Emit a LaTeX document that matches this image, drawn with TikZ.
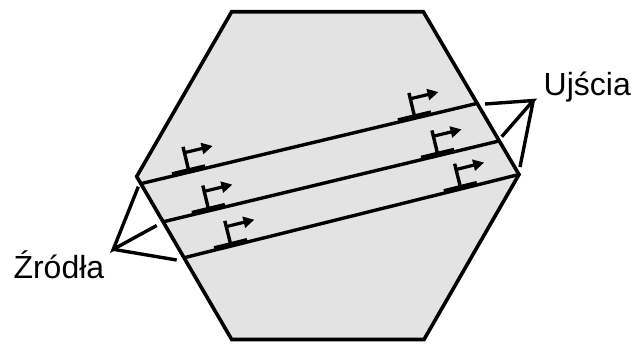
\documentclass[tikz,border=0pt]{standalone}
\usepackage{fontspec}
\setmainfont{Liberation Sans}
\usetikzlibrary{arrows.meta,calc}
\definecolor{hexfill}{RGB}{227,227,227}
\tikzset{
  hexedge/.style={line width=3.6pt, line join=miter, fill=hexfill},
  bandline/.style={line width=3.4pt},
  pointer/.style={line width=3.4pt},
  flagbar/.style={line width=4pt},
  flagstem/.style={line width=3.4pt},
  flagarrow/.style={line width=3.2pt,-{Triangle[length=11pt,width=11pt]}},
  lbl/.style={inner sep=0pt, anchor=base west, font=\fontsize{32}{38}\selectfont}
}
% #1 start of line, #2 end of line, #3 position fraction
\newcommand\promoflag[3]{%
  \coordinate (pfbase) at ($(#1)!#3!(#2)$);
  \coordinate (pfbarL) at ($(pfbase)!17pt!180:(#2)$);
  \coordinate (pfbarR) at ($(pfbase)!17pt!(#2)$);
  \coordinate (pfup)   at ($(pfbase)!2pt!90:(#2)$);
  \coordinate (pftop)  at ($(pfbase)!26pt!90:(#2)$);
  \coordinate (pfmid)  at ($(pfbase)!20pt!90:(#2)$);
  \coordinate (pftip)  at ($(pfmid)!29pt!($(#2)+(pfmid)-(pfbase)$)$);
  \draw[flagbar] ($(pfbarL)+(pfup)-(pfbase)$) -- ($(pfbarR)+(pfup)-(pfbase)$);
  \draw[flagstem] (pfbase) -- (pftop);
  \draw[flagarrow] (pfmid) -- (pftip);
}
\begin{document}
\begin{tikzpicture}[x=1pt,y=-1pt]
\useasboundingbox (0,0) rectangle (636,343);
% hexagon
\coordinate (hL)  at (136.7,176.5);
\coordinate (hTL) at (231.7,11.7);
\coordinate (hTR) at (423.3,11.7);
\coordinate (hR)  at (519,174.5);
\coordinate (hBR) at (424,339.5);
\coordinate (hBL) at (231.7,339.5);
\draw[hexedge] (hL) -- (hTL) -- (hTR) -- (hR) -- (hBR) -- (hBL) -- cycle;
% band lines
\coordinate (l1a) at (141.5,183.5);
\coordinate (l1b) at (476.6,103.5);
\coordinate (l2a) at (164,221.6);
\coordinate (l2b) at (499,141);
\coordinate (l3a) at (185,257.5);
\coordinate (l3b) at (hR);
\draw[bandline] (l1a) -- (l1b);
\draw[bandline] (l2a) -- (l2b);
\draw[bandline] (l3a) -- (l3b);
\promoflag{l1a}{l1b}{0.142}
\promoflag{l1a}{l1b}{0.816}
\promoflag{l2a}{l2b}{0.134}
\promoflag{l2a}{l2b}{0.818}
\promoflag{l3a}{l3b}{0.138}
\promoflag{l3a}{l3b}{0.826}
% labels
\node[lbl] (zrodla) at (13.3,278.3) {Źródła};
\node[lbl] (ujscia) at (543.5,95) {Ujścia};
% pointers
\coordinate (zapex) at (113.3,249.3);
\coordinate (z1) at (138.3,186.7);
\coordinate (z2) at (156.7,225.5);
\coordinate (z3) at (176.7,260);
\draw[pointer] (z1) -- (zapex) -- (z2);
\draw[pointer] (zapex) -- (z3);
\coordinate (uapex) at (533.3,100.5);
\coordinate (u1) at (485,104);
\coordinate (u2) at (501.7,136.7);
\coordinate (u3) at (520,167);
\draw[pointer] (u1) -- (uapex) -- (u2);
\draw[pointer] (uapex) -- (u3);
\end{tikzpicture}
\end{document}
